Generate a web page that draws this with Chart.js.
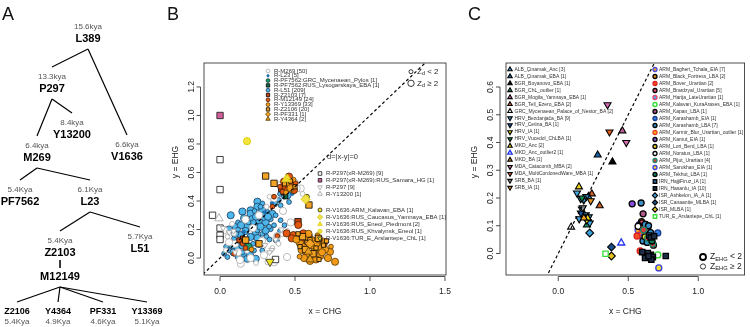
<!DOCTYPE html>
<html>
<head>
<meta charset="utf-8">
<script src="https://cdn.jsdelivr.net/npm/chart.js@4.4.1/dist/chart.umd.min.js"></script>
<style>
  body { margin: 0; background: #fff; }
  #wrap { position: relative; width: 750px; height: 327px; }
  canvas { position: absolute; top: 0; }
</style>
</head>
<body>
<div id="wrap">
  <canvas id="treeA" width="165" height="327" style="left:0"></canvas>
  <canvas id="plotB" width="303" height="327" style="left:165px"></canvas>
  <canvas id="plotC" width="282" height="327" style="left:468px"></canvas>
</div>
<script>
const FONT = "'Liberation Sans', Arial, Helvetica, sans-serif";

// ---------- panel A: haplogroup tree ----------
const treeNames   = ['L389', 'P297', 'Y13200', 'M269', 'V1636', 'PF7562', 'L23', 'Z2103', 'L51', 'Z2106', 'Y4364', 'PF331', 'Y13369'];
const treeAges    = ['15.6kya', '13.3kya', '8.4kya', '6.4kya', '6.6kya', '5.4Kya', '6.1Kya', '5.4Kya', '5.7Kya', '5.4Kya', '4.9Kya', '4.6Kya', '5.1Kya'];
const treeParents = [-1, 0, 1, 1, 0, 3, 3, 6, 6, 7, 7, 7, 7];
// drawing layout (column / row in panel units)
const treeCol = [88, 52, 72, 37, 127, 20, 90, 60, 140, 17, 58, 103, 147];
const treeRow = [39, 89, 135, 158, 157, 202, 202, 253, 249, 312, 312, 312, 312];

// ---------- panel B: Y-haplogroups, x = CHG, y = EHG  [x, y, Zd>=2] ----------
const bXTicks = [0, 0.5, 1.0, 1.5];
const bYTicks = [0, 0.2, 0.4, 0.6, 0.8, 1.0, 1.2];

const m269 = [[0.027,0.195,1],[0.093,0.171,0],[0.038,0.055,0],[0.138,-0.04,1],[0.204,0.0,1],[0.293,0.02,1],[0.316,-0.03,0],[0.36,-0.03,1],[0.447,0.007,1],[0.24,-0.035,0],[0.133,-0.014,1],[0.587,0.021,1],[0.711,0.009,1],[0.404,0.512,1],[0.504,0.535,0],[0.538,0.488,1],[0.36,0.418,1],[0.471,0.25,1],[0.449,0.19,0],[0.382,0.155,1],[0.416,0.167,0],[0.511,0.489,1],[0.26,0.30,1],[0.17,0.27,1],[0.31,0.36,0],[0.08,0.24,0],[0.10,0.10,1],[0.22,0.21,1],[0.28,0.12,1],[0.12,0.04,1],[0.05,0.15,0],[0.33,0.43,0],[0.42,0.33,1],[0.06,0.11,1],[0.18,0.05,0],[0.35,0.07,0],[0.55,0.45,0],[0.60,0.04,0],[0.39,0.10,0]];
const l23 = [[0.349,0.383],[0.16,0.185],[0.48,0.45],[0.30,0.32],[0.45,0.46]];
const pf7562Grc = [[0.19,0.08,1]];
const pf7562Rus = [[0.438,0.43,0]];
const l51 = [[0.249,0.395,1],[0.282,0.383,0],[0.36,0.383,1],[0.393,0.407,0],[0.427,0.43,0],[0.482,0.458,0],[0.46,0.472,1],[0.404,0.37,0],[0.46,0.393,0],[0.249,0.36,1],[0.204,0.335,1],[0.282,0.335,1],[0.316,0.323,0],[0.349,0.31,1],[0.371,0.30,0],
  [0.071,0.30,1],[0.149,0.326,1],[0.16,0.279,1],[0.204,0.311,1],[0.227,0.25,1],[0.26,0.265,1],[0.293,0.311,0],[0.304,0.25,1],[0.338,0.272,0],[0.338,0.202,0],[0.104,0.218,1],[0.138,0.16,1],[0.093,0.137,0],[0.071,0.10,1],[0.06,0.053,0],[0.116,0.065,1],[0.16,0.03,1],[0.116,0.007,0],[0.182,-0.005,1],[0.227,0.053,0],[0.26,0.10,1],[0.282,0.17,0],[0.371,0.125,0],[0.404,0.265,0],[0.204,0.148,1],[0.238,0.183,1],[0.182,0.22,1],[0.249,0.194,0],[0.304,0.194,1],[0.327,0.22,0],[0.049,0.007,0],[0.027,0.03,0],[0.082,0.089,1],[0.149,0.089,1],[0.193,0.065,1],[0.238,-0.005,1],[0.282,0.053,0],
  [0.12,0.25,0],[0.17,0.19,1],[0.21,0.28,0],[0.24,0.29,1],[0.27,0.22,1],[0.19,0.25,0],[0.13,0.12,1],[0.10,0.17,1],[0.06,0.20,1],[0.22,0.10,0],[0.29,0.28,0],[0.32,0.29,1],[0.15,0.04,0],[0.20,0.02,1],[0.09,0.04,1],[0.04,0.08,0],[0.25,0.14,1],[0.31,0.15,0],[0.36,0.23,0],[0.43,0.23,0],[0.14,0.23,1],[0.23,0.33,0],[0.17,0.11,0],[0.12,0.20,0],[0.27,0.36,0],[0.43,0.47,0],[0.45,0.44,1],[0.40,0.45,0],[0.50,0.48,0],[0.40,0.19,0],[0.33,0.13,0],[0.38,0.12,0]];
const z2103 = [[0.52,0.255,1],[0.404,0.48,0],[0.15,0.14,0],[0.46,0.50,0],[0.13,0.12,0],[0.42,0.46,0],[0.60,0.15,0]];
const m12149 = [[0.427,0.536,1],[0.46,0.571,1],[0.476,0.519,0],[0.438,0.5,1],[0.504,0.524,0],[0.493,0.477,1],[0.416,0.465,0],[0.36,0.43,0],[0.349,0.36,0],[0.445,0.48,0],[0.40,0.50,0],
  [0.444,0.173,1],[0.489,0.161,1],[0.522,0.232,1],[0.556,0.173,1],[0.478,0.138,1],[0.127,0.126,0],[0.093,0.03,0],[0.382,0.155,0],[0.15,0.10,0],[0.62,0.12,1],[0.55,0.12,0],[0.17,0.07,0],[0.70,0.10,0]];
const y13369 = [[0.533,0.103,1],[0.567,0.08,1],[0.6,0.091,1],[0.633,0.056,1],[0.667,0.068,1],[0.689,0.114,1],[0.611,0.126,1],[0.578,0.138,1],[0.544,0.056,1],[0.578,0.033,1],[0.622,0.009,1],[0.667,0.014,1],[0.733,0.044,1],[0.767,-0.026,1],[0.644,0.103,1],[0.51,0.13,1],[0.59,0.17,1],[0.65,0.16,0],[0.70,0.06,1],[0.56,0.00,1],[0.60,-0.02,1],[0.72,0.0,1],[0.53,0.01,0],[0.64,-0.01,1],[0.74,0.08,0],[0.45,0.52,0],[0.49,0.55,0],[0.47,0.49,1],[0.44,0.46,0],[0.21,0.06,0],[0.66,0.13,1],[0.62,0.08,0],[0.68,0.04,1]];
const z2106 = [[0.304,0.575,1],[0.36,0.524,1],[0.593,0.372,1],[0.171,0.126,1],[0.26,0.10,1],[0.533,0.08,0],[0.656,0.138,1],[0.58,0.11,0],[0.62,0.03,1],[0.69,0.09,0],[0.55,0.15,1],[0.50,0.50,0],[0.43,0.52,0],[0.71,0.12,0],[0.64,0.07,0],[0.57,0.06,1],[0.52,0.17,0],[0.60,0.13,0],[0.66,-0.01,0],[0.47,0.54,0]];
const pf331 = [[0.60,0.10,1]];
const y4364 = [[0.589,0.044,1],[0.60,-0.01,1]];
const p297xM269 = [[0.0,0.69,1],[0.0,0.48,1],[-0.05,0.30,1],[0.0,0.21,1],[0.0,0.16,1],[0.0,0.13,1],[0.37,-0.01,1]];
const p297Samara = [[0.0,1.0,1]];
const p297 = [[0.06,0.18,0],[0.344,0.056,0],[0.37,0.13,0],[0.09,0.19,0],[0.30,0.09,0],[0.02,0.21,0],[0.41,0.20,0],[0.33,0.04,0],[0.10,0.04,0]];
const y13200 = [[-0.007,0.278,1]];
const v1636Kalavan = [[0.58,0.43,0]];
const v1636Yamnaya = [[0.571,0.412,1]];
const v1636Piedmont = [[0.44,0.552,1],[0.45,0.565,0]];
const v1636Khvalynsk = [[0.18,0.82,1]];
const v1636Arslantepe = [[0.333,-0.026,1]];

const bLabels1 = ['R-M269 [50]', 'R-L23 [5]', 'R-PF7562:GRC_Mycenaean_Pylos [1]', 'R-PF7562:RUS_Lysogarskaya_EBA [1]', 'R-L51 [209]', 'R-Z2103 [7]', 'R-M12149 [24]', 'R-Y13369 [33]', 'R-Z2106 [20]', 'R-PF331 [1]', 'R-Y4364 [2]'];
const bLabels2 = ['R-P297(xR-M269) [9]', 'R-P297(xR-M269):RUS_Samara_HG [1]', 'R-P297 [9]', 'R-Y13200 [1]'];
const bLabels3 = ['R-V1636:ARM_Kalavan_EBA [1]', 'R-V1636:RUS_Caucasus_Yamnaya_EBA [1]', 'R-V1636:RUS_Eneol_Piedmont [2]', 'R-V1636:RUS_Khvalynsk_Eneol [1]', 'R-V1636:TUR_E_Arslantepe_ChL [1]'];

// ---------- panel C: populations, x = CHG, y = EHG  [x, y] ----------
const cXTicks = [0, 0.5, 1.0];
const cYTicks = [0, 0.1, 0.2, 0.3, 0.4, 0.5, 0.6];
const cLeftNames = ['ALB_Çinamak_Anc [3]', 'ALB_Çinamak_EBA [1]', 'BGR_Boyanovo_EBA [1]', 'BGR_ChL_outlier [1]', 'BGR_Mogila_Yamnaya_EBA [1]', 'BGR_Tell_Ezero_EBA [2]', 'GRC_Mycenaean_Palace_of_Nestor_BA [2]', 'HRV_Bezdanjača_BA [9]', 'HRV_Cetina_BA [1]', 'HRV_IA [1]', 'HRV_Vucedol_ChLBA [1]', 'MKD_Anc [2]', 'MKD_Anc_outlier2 [1]', 'MKD_BA [1]', 'MDA_Catacomb_MBA [2]', 'MDA_MultiCordonedWare_MBA [1]', 'SRB_BA [1]', 'SRB_IA [1]'];
const cLeftData = [
  [[0.19,0.135],[0.215,0.125],[0.215,0.205]],
  [[0.282,0.355]],
  [[0.387,0.33]],
  [[0.205,0.103]],
  [[0.458,0.442]],
  [[0.24,0.215],[0.296,0.172]],
  [[0.092,0.095],[0.185,0.14]],
  [[0.134,0.218],[0.183,0.193],[0.169,0.16],[0.197,0.139],[0.218,0.132],[0.16,0.198],[0.225,0.11],[0.15,0.125],[0.2,0.205]],
  [[0.162,0.146]],
  [[0.204,0.121]],
  [[0.17,0.20]],
  [[0.148,0.24],[0.21,0.128]],
  [[0.45,0.038]],
  [[0.183,0.128]],
  [[0.352,0.536],[0.486,0.40]],
  [[0.366,0.438]],
  [[0.175,0.165]],
  [[0.232,0.19]]
];
const cRightNames = ['ARM_Bagheri_Tchala_EIA [7]', 'ARM_Black_Fortress_LBA [2]', 'ARM_Bover_Urartian [2]', 'ARM_Brardzyal_Urartian [5]', 'ARM_Harija_LateUrartian [1]', 'ARM_Kalavan_KuraAraxes_EBA [1]', 'ARM_Kapan_LBA [1]', 'ARM_Karashamb_EIA [1]', 'ARM_Karashamb_LBA [7]', 'ARM_Karmir_Blur_Urartian_outlier [1]', 'ARM_Kamut_EIA [1]', 'ARM_Lori_Berd_LBA [1]', 'ARM_Noratus_LBA [1]', 'ARM_Pijut_Urartian [4]', 'ARM_Sarukhan_EIA [1]', 'ARM_Tekhut_LBA [1]', 'IRN_HajjiFiruz_IA [1]', 'IRN_Hasanlu_IA [10]', 'ISR_Ashkelon_IA_A [1]', 'ISR_Canaanite_MLBA [1]', 'ISR_MLBA [1]', 'TUR_E_Arslantepe_ChL [1]'];
const cRightData = [
  [[0.58,0.105],[0.6,0.09],[0.62,0.075],[0.59,0.07],[0.63,0.095],[0.61,0.06],[0.57,0.085]],
  [[0.595,0.115],[0.615,0.1]],
  [[0.563,0.063],[0.585,0.009]],
  [[0.60,0.11],[0.625,0.105],[0.64,0.085],[0.655,0.07],[0.68,0.03]],
  [[0.585,0.1]],
  [[0.711,-0.005]],
  [[0.606,0.143]],
  [[0.711,0.074]],
  [[0.592,0.182],[0.62,0.105],[0.605,0.045],[0.645,0.1],[0.66,0.075],[0.635,0.04],[0.575,0.1]],
  [[0.6,0.085]],
  [[0.528,0.179]],
  [[0.62,0.06]],
  [[0.57,0.098]],
  [[0.64,0.055],[0.665,0.045],[0.675,0.035],[0.61,0.085]],
  [[0.718,-0.052]],
  [[0.67,0.045]],
  [[0.65,0.065]],
  [[0.62,-0.016],[0.662,-0.005],[0.676,-0.013],[0.768,-0.009],[0.66,0.058],[0.685,0.062],[0.64,0.002],[0.6,0.005],[0.665,-0.022],[0.645,-0.01]],
  [[0.225,0.074]],
  [[0.38,0.023]],
  [[0.38,-0.009]],
  [[0.338,-0.001]]
];

// ---------- styles ----------
const SHAPE_K = { circle: 1, rect: 1.25, triangle: 1.35, rectRot: 1.3 };
const st = (shape, fill, stroke, lw, down) => ({ shape, fill, stroke, lw: lw || 0.8, down: !!down });

const bStyle1 = [
  st('circle', '#ffffff', '#b3b3b3', 0.9),
  st('circle', '#1f6fb2', '#1f6fb2', 0.5),
  st('circle', '#1a9a6c', '#0b3d2b'),
  st('rect', '#0f6a45', '#000'),
  st('circle', '#4db6ea', '#1d3b5c'),
  st('rect', '#c4420e', '#000'),
  st('circle', '#e3560f', '#4a1e05'),
  st('circle', '#f29a16', '#5a3a05'),
  st('rect', '#f4a424', '#000'),
  st('rectRot', '#f4a424', '#5a3a05'),
  st('triangle', '#e89c1c', '#5a3a05')
];
const bStyle2 = [
  st('rect', '#ffffff', '#111'),
  st('rect', '#d0609a', '#111'),
  st('triangle', '#ffffff', '#aaaaaa', 0.9, true),
  st('triangle', '#ffffff', '#aaaaaa', 0.9)
];
const bStyle3 = [
  st('circle', '#f2e422', '#222'),
  st('rectRot', '#f2e24a', '#d0c000'),
  st('triangle', '#f0e030', '#e0d020'),
  st('circle', '#f2e43a', '#d8c800'),
  st('triangle', '#f2e422', '#222', 0.8, true)
];
const cLeftStyle = [
  st('triangle', '#3fa0d8', '#000', 1.1), st('triangle', '#1564a8', '#000', 1.1), st('triangle', '#000', '#000', 1.1),
  st('triangle', '#1b8c6b', '#000', 1.1), st('triangle', '#c45fa0', '#000', 1.1), st('triangle', '#d2601e', '#000', 1.1),
  st('triangle', '#ffffff', '#000', 1.1), st('triangle', '#45a8e0', '#000', 1.1, true), st('triangle', '#1456a0', '#000', 1.1, true),
  st('triangle', '#f0e020', '#000', 1.1, true), st('triangle', '#138a45', '#000', 1.1, true), st('triangle', '#f0d418', '#000', 1.1),
  st('triangle', '#ffffff', '#2233ee', 1.3), st('triangle', '#f5a31d', '#000', 1.1), st('triangle', '#d36fb1', '#000', 1.1, true),
  st('triangle', '#e0601a', '#000', 1.1, true), st('triangle', '#8a8a8a', '#000', 1.1, true), st('triangle', '#e8961e', '#000', 1.1, true)
];
const cRightStyle = [
  st('circle', '#f2a21e', '#4a4ae6', 1.3), st('circle', '#e8900f', '#000', 1.3), st('circle', '#f04e23', '#e02020', 1.3),
  st('circle', '#e85070', '#000', 1.3), st('circle', '#4ab0e0', '#e04070', 1.3), st('circle', '#ffffff', '#33dd33', 1.4),
  st('circle', '#b05a8c', '#000', 1.3), st('circle', '#2f7fe6', '#1a3a8a', 1.3), st('circle', '#3a8fc4', '#000', 1.3),
  st('circle', '#f7b21a', '#f03a20', 1.3), st('circle', '#8a4fe0', '#000', 1.3), st('circle', '#e6d61e', '#000', 1.3),
  st('circle', '#ffffff', '#000', 1.3), st('circle', '#d83a3a', '#1a8a6a', 1.3), st('circle', '#f0e028', '#3a3ae0', 1.3),
  st('circle', '#12805a', '#000', 1.3), st('rect', '#2a6aa8', '#000', 1.3), st('rect', '#1e2e48', '#000', 1.3),
  st('rectRot', '#3aa0dc', '#000', 1.1), st('rectRot', '#1a4e8a', '#000', 1.1), st('rectRot', '#e0c01a', '#000', 1.1),
  st('rect', '#ffffff', '#33dd33', 1.3)
];

// ---------- helpers ----------
function drawMark(ctx, s, x, y, r) {
  const opt = { pointStyle: s.shape, radius: r * (SHAPE_K[s.shape] || 1), rotation: s.down ? 180 : 0, borderWidth: s.lw };
  ctx.save();
  ctx.fillStyle = s.fill; ctx.strokeStyle = s.stroke; ctx.lineWidth = s.lw;
  if (Chart.helpers && Chart.helpers.drawPoint) {
    Chart.helpers.drawPoint(ctx, opt, x, y);
  } else {
    ctx.beginPath(); ctx.arc(x, y, opt.radius, 0, Math.PI * 2); ctx.fill(); ctx.stroke();
  }
  ctx.restore();
}

function pointSet(s, pts, big, small, fixedR) {
  return {
    data: pts.map(p => ({ x: p[0], y: p[1], z: p[2] || 0 })),
    pointStyle: s.shape,
    pointRotation: s.down ? 180 : 0,
    backgroundColor: s.fill,
    borderColor: s.stroke,
    borderWidth: s.lw,
    pointRadius: c => (fixedR || (c.raw && c.raw.z ? big : small)) * (SHAPE_K[s.shape] || 1)
  };
}

function diagSet(lo, hi) {
  return {
    data: [{ x: lo, y: lo }, { x: hi, y: hi }],
    showLine: true, borderColor: '#000', borderWidth: 1.2, borderDash: [3, 2.5], pointRadius: 0
  };
}

function rotText(ctx, s, x, y) {
  ctx.save(); ctx.translate(x, y); ctx.rotate(-Math.PI / 2); ctx.fillText(s, 0, 0); ctx.restore();
}

function subLabel(ctx, main, sub, rest, x, y, size) {
  ctx.textAlign = 'left'; ctx.textBaseline = 'middle';
  ctx.font = `${size}px ${FONT}`;
  ctx.fillText(main, x, y);
  let w = ctx.measureText(main).width;
  ctx.font = `${size * 0.68}px ${FONT}`;
  ctx.fillText(sub, x + w, y + size * 0.28);
  w += ctx.measureText(sub).width;
  ctx.font = `${size}px ${FONT}`;
  ctx.fillText(rest, x + w, y);
}

// R-style axes: box, offset axis lines, rotated y labels
function rAxes(letter, xTicks, yTicks, off, extra) {
  return {
    id: 'rAxes',
    afterDatasetsDraw(chart) {
      const { ctx, chartArea: a, scales: { x, y } } = chart;
      ctx.save();
      ctx.strokeStyle = '#222'; ctx.lineWidth = 0.8;
      ctx.strokeRect(a.left, a.top, a.right - a.left, a.bottom - a.top);
      ctx.fillStyle = '#222'; ctx.font = `8.5px ${FONT}`;
      ctx.textAlign = 'center'; ctx.textBaseline = 'middle';
      const xl = a.bottom + 1.5;
      ctx.beginPath();
      ctx.moveTo(x.getPixelForValue(xTicks[0]), xl); ctx.lineTo(x.getPixelForValue(xTicks[xTicks.length - 1]), xl);
      xTicks.forEach(v => { const px = x.getPixelForValue(v); ctx.moveTo(px, xl); ctx.lineTo(px, xl + 4.5); });
      const yl = a.left - off.axis;
      ctx.moveTo(yl, y.getPixelForValue(yTicks[0])); ctx.lineTo(yl, y.getPixelForValue(yTicks[yTicks.length - 1]));
      yTicks.forEach(v => { const py = y.getPixelForValue(v); ctx.moveTo(yl, py); ctx.lineTo(yl - 4, py); });
      ctx.stroke();
      xTicks.forEach(v => ctx.fillText(v.toFixed(1), x.getPixelForValue(v), a.bottom + 17));
      yTicks.forEach(v => rotText(ctx, v.toFixed(1), a.left - off.label, y.getPixelForValue(v)));
      ctx.fillText('x = CHG', (a.left + a.right) / 2, 312);
      rotText(ctx, 'y = EHG', a.left - off.title, 162);
      ctx.fillStyle = '#111'; ctx.font = `18px ${FONT}`; ctx.textAlign = 'left'; ctx.textBaseline = 'alphabetic';
      ctx.fillText(letter, off.letter, 20);
      extra(ctx, a);
      ctx.restore();
    }
  };
}

function baseOptions(pad, xr, yr) {
  return {
    responsive: false, animation: false, events: [],
    layout: { padding: pad },
    scales: {
      x: { type: 'linear', min: xr[0], max: xr[1], display: false },
      y: { type: 'linear', min: yr[0], max: yr[1], display: false }
    },
    plugins: { legend: { display: false }, tooltip: { enabled: false } }
  };
}

// ---------- panel A ----------
const edgeSets = [];
treeParents.forEach((p, i) => {
  if (p < 0) return;
  const y0 = treeRow[p] + (p === 7 ? 34 : 10);
  const y1 = treeRow[i] - (treeParents[i] === 7 ? 10 : 22);
  edgeSets.push({
    data: [{ x: treeCol[p], y: y0 }, { x: treeCol[i], y: y1 }],
    showLine: true, borderColor: '#000', borderWidth: 1.2, pointRadius: 0
  });
});

new Chart(document.getElementById('treeA'), {
  type: 'scatter',
  data: { datasets: edgeSets },
  options: (() => {
    const o = baseOptions(0, [0, 165], [0, 327]);
    o.scales.y.reverse = true;
    return o;
  })(),
  plugins: [{
    id: 'treeText',
    afterDatasetsDraw(chart) {
      const { ctx, scales: { x, y } } = chart;
      ctx.save();
      ctx.textAlign = 'center'; ctx.textBaseline = 'middle';
      treeNames.forEach((name, i) => {
        const px = x.getPixelForValue(treeCol[i]), py = y.getPixelForValue(treeRow[i]);
        const leaf = treeParents[i] === 7;
        ctx.fillStyle = '#000';
        ctx.font = `bold ${leaf ? 9 : 11}px ${FONT}`;
        ctx.fillText(name, px, py);
        if (i === 7) {
          ctx.fillText('I', px, py + 12);
          ctx.fillText('M12149', px, py + 24);
        }
        ctx.fillStyle = '#555'; ctx.font = `8px ${FONT}`;
        ctx.fillText(treeAges[i], px, leaf ? py + 10 : py - 12);
      });
      ctx.fillStyle = '#111'; ctx.font = `18px ${FONT}`; ctx.textAlign = 'left'; ctx.textBaseline = 'alphabetic';
      ctx.fillText('A', 2, 20);
      ctx.restore();
    }
  }]
});

// ---------- panel B ----------
const bData1 = [m269, l23, pf7562Grc, pf7562Rus, l51, z2103, m12149, y13369, z2106, pf331, y4364];
const bData2 = [p297xM269, p297Samara, p297, y13200];
const bData3 = [v1636Kalavan, v1636Yamnaya, v1636Piedmont, v1636Khvalynsk, v1636Arslantepe];
// bottom-to-top drawing order
const bLayers = [
  [4, 1], [0, 1], [1, 1], [2, 1], [3, 1], [5, 1], [6, 1], [7, 1], [8, 1], [9, 1], [10, 1],
  [0, 2], [1, 2], [2, 2], [3, 2], [0, 3], [1, 3], [2, 3], [3, 3], [4, 3]
];
const bSets = bLayers.map(([i, blk]) => {
  const s = [null, bStyle1, bStyle2, bStyle3][blk][i];
  const d = [null, bData1, bData2, bData3][blk][i];
  return pointSet(s, d, 3.6, 2.4, blk === 1 && i === 1 ? 1.7 : 0);
});
bSets.push(diagSet(-0.3, 1.6));
bSets.forEach((d, k) => { d.order = bSets.length - k; });

new Chart(document.getElementById('plotB'), {
  type: 'scatter',
  data: { datasets: bSets },
  options: baseOptions({ left: 39, right: 22, top: 63, bottom: 52 }, [-0.107, 1.507], [-0.119, 1.368]),
  plugins: [rAxes('B', bXTicks, bYTicks, { axis: 3.5, label: 12.5, title: 28, letter: 2 }, (ctx, a) => {
    ctx.save();
    ctx.beginPath(); ctx.rect(a.left, a.top, a.right - a.left, a.bottom - a.top); ctx.clip();
    ctx.fillStyle = '#333'; ctx.textAlign = 'left'; ctx.textBaseline = 'middle';
    ctx.font = `6px ${FONT}`;
    bLabels1.forEach((t, i) => {
      const yy = a.top + 8 + i * 4.8;
      drawMark(ctx, bStyle1[i], a.left + 64, yy, i === 1 ? 1.3 : 1.9);
      ctx.fillStyle = '#333'; ctx.fillText(t, a.left + 70, yy);
    });
    bLabels2.forEach((t, i) => {
      const yy = a.top + 110.5 + i * 6.8;
      drawMark(ctx, bStyle2[i], a.left + 116, yy, 2);
      ctx.fillStyle = '#333'; ctx.fillText(t, a.left + 122, yy);
    });
    bLabels3.forEach((t, i) => {
      const yy = a.top + 147 + i * 7.1;
      drawMark(ctx, bStyle3[i], a.left + 116, yy, 2);
      ctx.fillStyle = '#333'; ctx.fillText(t, a.left + 122, yy);
    });
    ctx.font = `7.5px ${FONT}`;
    ctx.fillText('d=|x-y|=0', a.left + 123, a.top + 94);
    const open = st('circle', 'rgba(0,0,0,0)', '#222', 0.9);
    drawMark(ctx, open, a.left + 207, a.top + 8.7, 2);
    drawMark(ctx, open, a.left + 207, a.top + 20.3, 3.2);
    ctx.fillStyle = '#222';
    subLabel(ctx, 'Z', 'd', ' < 2', a.left + 213, a.top + 8.7, 8);
    subLabel(ctx, 'Z', 'd', ' \u2265 2', a.left + 213, a.top + 20.3, 8);
    ctx.restore();
  })]
});

// ---------- panel C ----------
const cSets = [];
cLeftData.forEach((d, i) => cSets.push(pointSet(cLeftStyle[i], d, 3, 3, 3)));
cRightData.forEach((d, i) => cSets.push(pointSet(cRightStyle[i], d, 3, 3, 3)));
cSets.push(diagSet(-0.3, 0.9));
cSets.forEach((d, k) => { d.order = cSets.length - k; });

new Chart(document.getElementById('plotC'), {
  type: 'scatter',
  data: { datasets: cSets },
  options: baseOptions({ left: 38, right: 2, top: 63, bottom: 52 }, [-0.373, 1.331], [-0.0775, 0.6865]),
  plugins: [rAxes('C', cXTicks, cYTicks, { axis: 6, label: 15, title: 31, letter: 0 }, (ctx, a) => {
    ctx.textAlign = 'left'; ctx.textBaseline = 'middle';
    ctx.font = `5px ${FONT}`;
    cLeftNames.forEach((t, i) => {
      const yy = a.top + 6.5 + i * 6.95;
      drawMark(ctx, cLeftStyle[i], a.left + 4, yy, 1.9);
      ctx.fillStyle = '#333'; ctx.fillText(t, a.left + 8.5, yy);
    });
    cRightNames.forEach((t, i) => {
      const yy = a.top + 6.5 + i * 7.0;
      drawMark(ctx, cRightStyle[i], a.left + 149, yy, 2);
      ctx.fillStyle = '#333'; ctx.fillText(t, a.left + 153, yy);
    });
    drawMark(ctx, st('circle', 'rgba(0,0,0,0)', '#000', 1.8), a.left + 197, a.top + 194, 3);
    drawMark(ctx, st('circle', 'rgba(0,0,0,0)', '#222', 0.9), a.left + 197, a.top + 203.5, 2.6);
    ctx.fillStyle = '#222';
    subLabel(ctx, 'Z', 'EHG', ' < 2', a.left + 204, a.top + 194, 8.5);
    subLabel(ctx, 'Z', 'EHG', ' \u2265 2', a.left + 204, a.top + 203.5, 8.5);
  })]
});
</script>
</body>
</html>
